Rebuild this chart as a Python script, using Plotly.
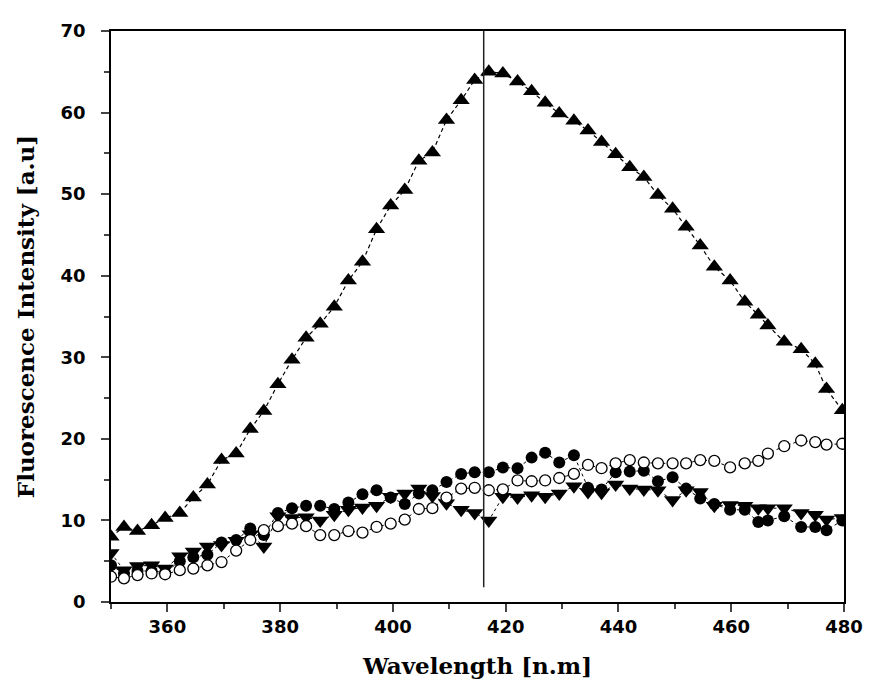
import plotly.graph_objects as go

# Wavelength positions (nm)
wavelength = [350.0, 352.3, 354.7, 357.2, 359.6, 362.2, 364.6, 367.1, 369.6, 372.2,
              374.7, 377.1, 379.6, 382.1, 384.6, 387.1, 389.6, 392.1, 394.6, 397.1,
              399.6, 402.1, 404.6, 407.0, 409.5, 412.1, 414.5, 417.0, 419.5, 422.1,
              424.6, 427.0, 429.5, 432.1, 434.6, 437.0, 439.5, 442.0, 444.5, 447.0,
              449.6, 452.0, 454.5, 457.0, 459.8, 462.4, 464.8, 466.5, 469.4, 472.4,
              474.9, 476.9, 479.7]

# Filled up-triangles
series_up = [8.0, 9.2, 8.7, 9.4, 10.3, 10.9, 12.8, 14.4, 17.4, 18.2,
             21.2, 23.4, 26.7, 29.7, 32.4, 34.1, 36.2, 39.4, 41.7, 45.7,
             48.6, 50.5, 54.1, 55.1, 59.1, 61.5, 64.0, 65.0, 64.8, 63.8,
             62.6, 61.2, 59.9, 59.0, 57.8, 56.4, 54.9, 53.3, 52.1, 49.9,
             48.2, 46.0, 43.7, 41.1, 39.4, 36.8, 35.2, 33.9, 31.9, 31.0,
             29.2, 26.1, 23.5]

# Filled down-triangles
series_down = [6.0, 3.9, 4.4, 4.5, 4.1, 5.6, 6.2, 6.8, 7.0, 7.5,
               8.3, 6.8, 10.5, 10.3, 10.4, 10.0, 10.7, 11.3, 11.6, 11.8,
               12.9, 13.3, 13.9, 13.0, 12.1, 11.3, 10.9, 10.0, 12.9, 12.8,
               13.1, 12.9, 13.3, 14.2, 13.5, 13.4, 14.4, 13.9, 13.8, 13.7,
               12.5, 13.7, 13.5, 11.8, 11.9, 11.8, 11.5, 11.5, 11.5, 10.9,
               10.7, 10.1, 10.3]

# Filled circles
series_filled = [4.5, 3.5, 3.8, 3.8, 3.6, 5.0, 5.5, 5.8, 7.3, 7.6,
                 9.0, 8.2, 10.9, 11.5, 11.8, 11.8, 11.4, 12.2, 13.2, 13.7,
                 12.8, 12.0, 13.3, 13.7, 14.7, 15.7, 15.9, 15.9, 16.5, 16.4,
                 17.7, 18.3, 17.1, 18.0, 14.0, 13.8, 15.9, 16.0, 16.1, 14.8,
                 15.3, 13.9, 12.7, 12.0, 11.3, 11.3, 9.8, 10.0, 10.5, 9.2,
                 9.2, 8.8, 10.0]

# Open circles
series_open = [3.1, 2.9, 3.3, 3.5, 3.4, 3.9, 4.1, 4.5, 4.9, 6.3,
               7.6, 8.8, 9.3, 9.6, 9.3, 8.2, 8.2, 8.7, 8.5, 9.2,
               9.6, 10.1, 11.4, 11.5, 12.8, 13.9, 14.0, 13.7, 13.8, 14.9,
               14.8, 14.9, 15.2, 15.7, 16.8, 16.4, 17.0, 17.4, 17.1, 17.0,
               17.0, 17.0, 17.4, 17.3, 16.5, 17.0, 17.3, 18.2, 19.1, 19.8,
               19.6, 19.3, 19.4]

x_ticks = [360, 380, 400, 420, 440, 460, 480]
y_ticks = [0, 10, 20, 30, 40, 50, 60, 70]
vline_x = 416.1
vline_y0 = 1.8

fig = go.Figure()

fig.add_trace(go.Scatter(
    x=wavelength, y=series_filled, mode="lines+markers",
    line=dict(color="black", width=1, dash="dot"),
    marker=dict(symbol="circle", size=12, color="black"),
    showlegend=False))

fig.add_trace(go.Scatter(
    x=wavelength, y=series_down, mode="lines+markers",
    line=dict(color="black", width=1, dash="dot"),
    marker=dict(symbol="triangle-down", size=15, color="black"),
    showlegend=False))

fig.add_trace(go.Scatter(
    x=wavelength, y=series_open, mode="lines+markers",
    line=dict(color="black", width=1, dash="dot"),
    marker=dict(symbol="circle", size=11, color="white",
                line=dict(width=1.3, color="black")),
    showlegend=False))

fig.add_trace(go.Scatter(
    x=wavelength, y=series_up, mode="lines+markers",
    line=dict(color="black", width=1.2, dash="4px,3px"),
    marker=dict(symbol="triangle-up", size=15, color="black"),
    showlegend=False))

fig.add_shape(type="line", xref="x", yref="y",
              x0=vline_x, x1=vline_x, y0=vline_y0, y1=70,
              line=dict(color="#222222", width=1.5))

fig.update_layout(
    width=867, height=686,
    margin=dict(l=103, r=20, t=21, b=92),
    plot_bgcolor="white", paper_bgcolor="white",
    xaxis=dict(
        range=[350, 480], tickvals=x_ticks, ticks="outside", ticklen=8, tickwidth=1.5,
        minor=dict(ticks="outside", ticklen=5, tickwidth=1.5, dtick=10, tick0=350),
        showline=True, linecolor="black", linewidth=1.5, mirror=True,
        showgrid=False, zeroline=False,
        tickfont=dict(family="DejaVu Sans", size=18, color="black", weight="bold"),
        title=dict(text="Wavelength [n.m]", standoff=22,
                   font=dict(family="DejaVu Serif", size=23, color="black", weight="bold")),
    ),
    yaxis=dict(
        range=[0, 70], tickvals=y_ticks, ticks="outside", ticklen=8, tickwidth=1.5,
        minor=dict(ticks="outside", ticklen=5, tickwidth=1.5, dtick=5, tick0=0),
        showline=True, linecolor="black", linewidth=1.5, mirror=True,
        showgrid=False, zeroline=False, ticklabelstandoff=12,
        tickfont=dict(family="DejaVu Sans", size=18, color="black", weight="bold"),
        title=dict(text="Fluorescence Intensity [a.u]", standoff=20,
                   font=dict(family="DejaVu Serif", size=23, color="black", weight="bold")),
    ),
)

fig.write_html("out.html")
